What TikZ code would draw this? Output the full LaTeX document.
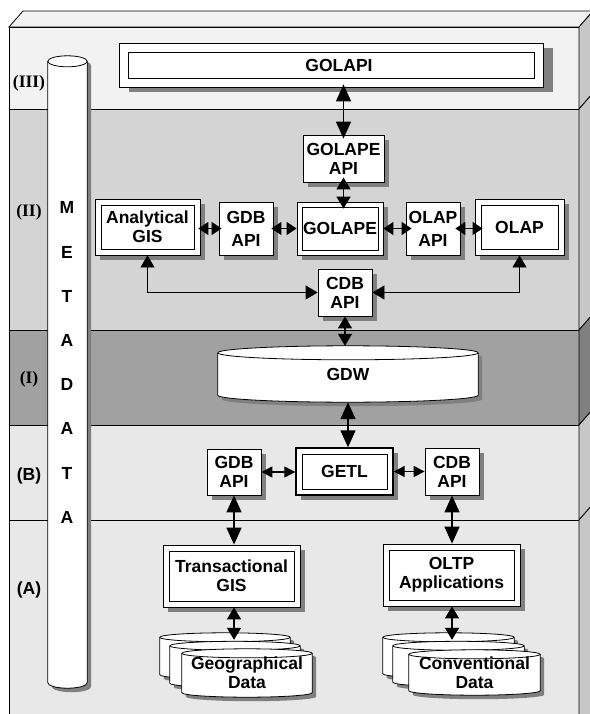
\documentclass[tikz,border=0pt]{standalone}
\usepackage{fontspec}
\setmainfont{Liberation Sans}
\newfontfamily\romfont{Liberation Serif}
\usepackage{tikz}
\usetikzlibrary{arrows.meta}
\usetikzlibrary{shadows}
\usetikzlibrary{calc}
\definecolor{slabtop}{gray}{0.95}
\definecolor{tierthree}{gray}{0.95}
\definecolor{tiertwo}{gray}{0.83}
\definecolor{tierone}{gray}{0.63}
\definecolor{tierbase}{gray}{0.91}
\definecolor{slabside}{gray}{0.78}
\definecolor{slabsidedark}{gray}{0.5}
\pgfdeclarelayer{slab}
\pgfdeclarelayer{drums}
\pgfsetlayers{slab,drums,main}
\newcommand{\datadrum}[2]{%
	\begin{pgfonlayer}{drums}
		\path[fill=black!50] let \p1=(#1.north west), \p2=(#1.south east), \n1={0.5*(\x2-\x1)} in
			(\x1+4pt,\y1-#2-4pt) -- (\x1+4pt,\y2+#2-4pt)
			arc[start angle=180, end angle=360, x radius=\n1, y radius=#2]
			-- (\x2+4pt,\y1-#2-4pt)
			arc[start angle=0, end angle=180, x radius=\n1, y radius=#2] -- cycle;
		\path[draw, fill=white, line width=0.8pt] let \p1=(#1.north west), \p2=(#1.south east), \n1={0.5*(\x2-\x1)} in
			(\x1,\y1-#2) -- (\x1,\y2+#2)
			arc[start angle=180, end angle=360, x radius=\n1, y radius=#2]
			-- (\x2,\y1-#2)
			arc[start angle=0, end angle=180, x radius=\n1, y radius=#2] -- cycle;
		\path[draw, line width=0.8pt] let \p1=(#1.north west), \p2=(#1.south east), \n1={0.5*(\x2-\x1)} in
			(\x1,\y1-#2) arc[start angle=180, end angle=360, x radius=\n1, y radius=#2];
	\end{pgfonlayer}}

\begin{document}
\begin{tikzpicture}[x=1pt,y=-1pt, font=\bfseries\fontsize{17.5}{19}\selectfont,
	box/.style={draw, fill=white, line width=0.8pt, inner sep=0pt, align=center,
		drop shadow={shadow xshift=#1, shadow yshift=-5pt, fill=black!50, opacity=1}},
	box/.default=5pt,
	inset/.style={path picture={\draw[line width=0.8pt] ([shift={(#1,-#1)}]path picture bounding box.north west) rectangle ([shift={(-#1,#1)}]path picture bounding box.south east);}},
	dbox/.style={box, inset=6pt},
	drum/.style={inner sep=0pt, align=center},
	romlbl/.style={font=\romfont\bfseries\fontsize{17.5}{19}\selectfont},
	bigarr/.style={{Triangle[length=17pt,width=15pt]}-{Triangle[length=17pt,width=15pt]}, line width=1.4pt},
	medarr/.style={{Triangle[length=12pt,width=14pt]}-{Triangle[length=12pt,width=14pt]}, line width=1.3pt},
	rowarr/.style={{Triangle[length=10pt,width=13pt]}-{Triangle[length=10pt,width=13pt]}, line width=1.3pt},
	smallarr/.style={{Triangle[length=11pt,width=11pt]}-{Triangle[length=11pt,width=11pt]}, line width=1.1pt}]
			\useasboundingbox (0,0) rectangle (589,714);
			\begin{pgfonlayer}{slab}
			\draw[fill=slabtop, line width=0.8pt] (9,27)-- (23,11)-- (593,11)-- (579,27)-- cycle;
			\draw[fill=tierthree, line width=0.8pt] (9,27) rectangle (579,109);
			\draw[fill=tiertwo, line width=0.8pt] (9,109) rectangle (579,330);
			\draw[fill=tierone, line width=0.8pt] (9,330) rectangle (579,425);
			\draw[fill=tierbase, line width=0.8pt] (9,425) rectangle (579,520);
			\draw[fill=tierbase, line width=0.8pt] (9,520) rectangle (579,720);
			\draw[fill=slabside, line width=0.8pt] (579,27)-- (593,11)-- (593,93)-- (579,109)-- cycle;
			\draw[fill=slabside, line width=0.8pt] (579,109)-- (593,93)-- (593,314)-- (579,330)-- cycle;
			\draw[fill=slabsidedark, line width=0.8pt] (579,330)-- (593,314)-- (593,409)-- (579,425)-- cycle;
			\draw[fill=slabside, line width=0.8pt] (579,425)-- (593,409)-- (593,504)-- (579,520)-- cycle;
			\draw[fill=slabside, line width=0.8pt] (579,520)-- (593,504)-- (593,720)-- (579,736)-- cycle;
			\end{pgfonlayer}
			\node[romlbl] (tIII) at (29,83) {(III)};
			\node[romlbl] (tII) at (29,212) {(II)};
			\node[romlbl] (tI) at (29,379) {(I)};
			\node (tB) at (29,476) {(B)};
			\node (tA) at (29,590) {(A)};
			\node[drum, minimum width=39pt, minimum height=632pt] (meta) at (67.5,372) {};
			\datadrum{meta}{5.5pt}
			\node[inner sep=0pt, align=center, font=\bfseries\fontsize{17.5}{44.2}\selectfont] (metatxt) at (67,362.6) {M\\E\\T\\A\\D\\A\\T\\A};
			\node[box=10pt, inset=9pt, minimum width=424pt, minimum height=44pt] (golapi) at (331,65) {\hspace*{16pt}GOLAPI};
			\node[box, minimum width=81pt, minimum height=47pt] (golapeapi) at (343.5,158.5) {GOLAPE\\API};
			\node[dbox, minimum width=105pt, minimum height=56pt] (ana) at (147.5,227) {Analytical\\GIS};
			\node[box, minimum width=54pt, minimum height=53pt] (gdbtwo) at (246,228.5) {GDB\\[4pt]API};
			\node[box, inset=5pt, minimum width=86pt, minimum height=53pt] (golape) at (340,228.5) {GOLAPE};
			\node[box, minimum width=54pt, minimum height=53pt] (olapapi) at (433,228.5) {OLAP\\[4pt]API};
			\node[dbox, minimum width=89pt, minimum height=56pt] (olap) at (519.5,227) {OLAP};
			\node[box, minimum width=54pt, minimum height=47pt] (cdbtwo) at (345,292.5) {CDB\\API};
			\node[drum, minimum width=260pt, minimum height=56pt] (gdw) at (348,374) {GDW};
			\datadrum{gdw}{7pt}
			\node[dbox, line width=1.4pt, minimum width=97pt, minimum height=47pt] (getl) at (344.5,471.5) {GETL};
			\node[box, minimum width=54pt, minimum height=46pt] (gdbb) at (234,472) {GDB\\API};
			\node[box, minimum width=54pt, minimum height=47pt] (cdbb) at (452,471.5) {CDB\\API};
			\node[dbox, minimum width=137pt, minimum height=62pt] (trans) at (231.5,576) {Transactional\\GIS};
			\node[dbox, minimum width=137pt, minimum height=62pt] (oltp) at (451.5,575) {OLTP\\Applications};
			\node[drum, minimum width=130pt, minimum height=46pt] (geothree) at (225,656) {};
			\node[drum, minimum width=130pt, minimum height=46pt] (geotwo) at (235,664.5) {};
			\node[drum, minimum width=130pt, minimum height=48pt] (geoone) at (247,673) {Geographical\\Data};
			\datadrum{geothree}{4.5pt}
			\datadrum{geotwo}{4.5pt}
			\datadrum{geoone}{4.5pt}
			\node[drum, minimum width=131pt, minimum height=45pt] (convthree) at (448.5,655.5) {};
			\node[drum, minimum width=131pt, minimum height=45pt] (convtwo) at (458.5,664) {};
			\node[drum, minimum width=131pt, minimum height=45pt] (convone) at (474.5,672.5) {Conventional\\Data};
			\datadrum{convthree}{4.5pt}
			\datadrum{convtwo}{4.5pt}
			\datadrum{convone}{4.5pt}
			\draw[bigarr, shorten <=-3pt, shorten >=-4pt] (golapeapi.north |- golapi.south)-- (golapeapi.north);
			\draw[medarr, shorten <=-5pt, shorten >=-7pt] (golapeapi.south)-- (golapeapi.south |- golape.north);
			\draw[rowarr, shorten <=-2pt, shorten >=-3pt] (ana.east |- gdbtwo.west)-- (gdbtwo.west);
			\draw[rowarr, shorten <=-2pt] (gdbtwo.east)-- (gdbtwo.east -| golape.west);
			\draw[rowarr, shorten >=-6pt] (golape.east)-- (golape.east -| olapapi.west);
			\draw[rowarr, shorten <=-5pt, shorten >=-8pt] (olapapi.east)-- (olapapi.east -| olap.west);
			\draw[medarr, line width=0.8pt] (ana.south) |- (cdbtwo.west);
			\draw[medarr, line width=0.8pt] (olap.south) |- (cdbtwo.east);
			\draw[medarr] (cdbtwo.south)-- (cdbtwo.south |- gdw.north);
			\draw[bigarr] (gdw.south)-- (gdw.south |- getl.north);
			\draw[smallarr] (gdbb.east)-- (gdbb.east -| getl.west);
			\draw[smallarr] (getl.east)-- (getl.east -| cdbb.west);
			\draw[bigarr] (gdbb.south)-- (gdbb.south |- trans.north);
			\draw[bigarr] (cdbb.south)-- (cdbb.south |- oltp.north);
			\draw[medarr, shorten >=-7pt] (gdbb.south |- trans.south)-- (gdbb.south |- geothree.north);
			\draw[medarr, shorten >=-7pt] (cdbb.south |- oltp.south)-- (cdbb.south |- convthree.north);
		\end{tikzpicture}
\end{document}
